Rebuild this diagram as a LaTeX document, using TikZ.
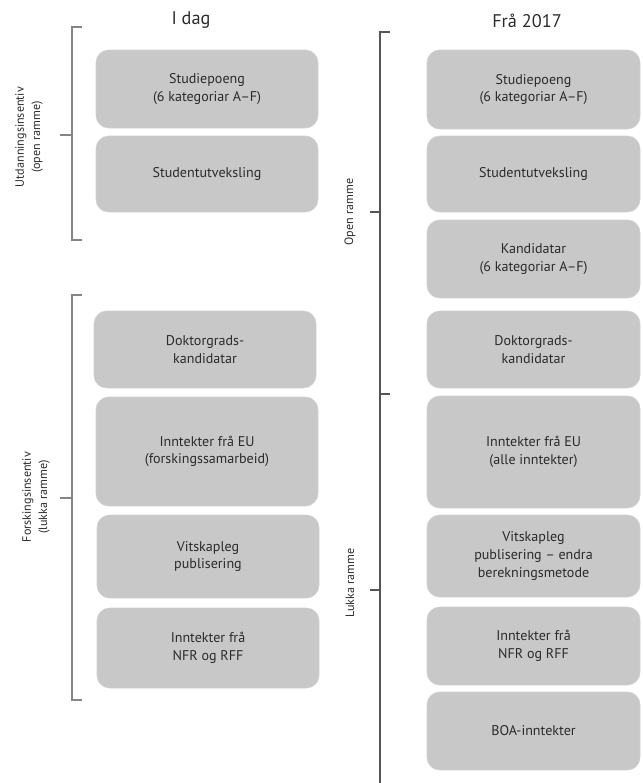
\documentclass[tikz,border=0pt]{standalone}
\usepackage{fontspec}
\setmainfont{PT Sans}
\usepackage{tikz}
\usetikzlibrary{calc}
\definecolor{boxgray}{HTML}{C8C8C8}
\definecolor{textgray}{HTML}{2B2B2B}
\definecolor{bracketgray}{HTML}{555555}
\definecolor{bracketlight}{HTML}{858585}
\newcommand{\boxtext}{\fontsize{10}{12.6}\selectfont}
\newcommand{\sidetext}{\fontsize{8.6}{11.5}\selectfont}
\newcommand{\px}{0.025cm}
\newcommand{\lw}{222*\px}
\newcommand{\rw}{213*\px}
\tikzset{
  item/.style={fill=boxgray, draw=boxgray!85, rounded corners=9pt, align=center,
    text=textgray, font=\boxtext, inner sep=0pt},
  bracket/.style={draw=bracketgray, line width=1.1pt},
  sidelabel/.style={rotate=90, align=center, text=textgray, font=\sidetext},
  coltitle/.style={text=textgray, font=\fontsize{13}{15}\selectfont}
}

\begin{document}
\begin{tikzpicture}[x=0.025cm, y=-0.025cm]
\useasboundingbox (0,0) rectangle (643,783);
%titles
\node[coltitle] (tdag) at (191, 20) {I dag};
\node[coltitle] (t2017) at (527, 21) {Frå 2017};
%I dag, utdanning
\node[item] (lsp) at (207, 89) [minimum width=\lw, minimum height=78*\px] {Studiepoeng\\(6 kategoriar A–F)};
\node[item] (lsu) at (207, 174) [minimum width=\lw, minimum height=76*\px] {Studentutveksling};
%I dag, forsking
\node[item] (ldk) at (205, 349.5) [minimum width=\lw, minimum height=77*\px] {Doktorgrads-\\kandidatar};
\node[item] (leu) at (207, 451.5) [minimum width=\lw, minimum height=109*\px] {Inntekter frå EU\\(forskingssamarbeid)};
\node[item] (lvp) at (208, 556.5) [minimum width=\lw, minimum height=83*\px] {Vitskapleg\\publisering};
\node[item] (lnfr) at (208, 648) [minimum width=\lw, minimum height=80*\px] {Inntekter frå\\NFR og RFF};
%Frå 2017
\node[item] (rsp) at (533.5, 89.5) [minimum width=\rw, minimum height=79*\px] {Studiepoeng\\(6 kategoriar A–F)};
\node[item] (rsu) at (533.5, 174) [minimum width=\rw, minimum height=76*\px] {Studentutveksling};
\node[item] (rka) at (533.5, 259) [minimum width=\rw, minimum height=78*\px] {Kandidatar\\(6 kategoriar A–F)};
\node[item] (rdk) at (533.5, 349.5) [minimum width=\rw, minimum height=77*\px] {Doktorgrads-\\kandidatar};
\node[item] (reu) at (533.5, 452) [minimum width=\rw, minimum height=112*\px] {Inntekter frå EU\\(alle inntekter)};
\node[item] (rvp) at (533.5, 556) [minimum width=\rw, minimum height=82*\px] {Vitskapleg\\publisering – endra\\berekningsmetode};
\node[item] (rnfr) at (533.5, 646) [minimum width=\rw, minimum height=78*\px] {Inntekter frå\\NFR og RFF};
\node[item] (rboa) at (533.5, 731) [minimum width=\rw, minimum height=78*\px] {BOA-inntekter};
%brackets
\coordinate (ut1) at (72, 27);
\coordinate (ut2) at (72, 240);
\coordinate (utm) at (72, 135);
\coordinate (fo1) at (72, 295);
\coordinate (fo2) at (72, 700);
\coordinate (fom) at (72, 498);
\coordinate (ra1) at (380, 32);
\coordinate (ra2) at (380, 394);
\coordinate (ra3) at (380, 783);
\coordinate (ram) at (380, 212);
\coordinate (rlm) at (380, 590);
\draw[bracket, draw=bracketlight] ($(ut1)+(10,0)$) -- (ut1) -- (ut2) -- ($(ut2)+(10,0)$);
\draw[bracket, draw=bracketlight] (utm) -- ($(utm)+(-12,0)$);
\draw[bracket, draw=bracketlight] ($(fo1)+(10,0)$) -- (fo1) -- (fo2) -- ($(fo2)+(10,0)$);
\draw[bracket, draw=bracketlight] (fom) -- ($(fom)+(-12,0)$);
\draw[bracket] ($(ra1)+(10,0)$) -- (ra1) -- (ra3);
\draw[bracket] (ra2) -- ($(ra2)+(10,0)$);
\draw[bracket] (ram) -- ($(ram)+(-10,0)$);
\draw[bracket] (rlm) -- ($(rlm)+(-10,0)$);
%side labels
\node[sidelabel] (lut) at (29, 137) {Utdanningsinsentiv\\(open ramme)};
\node[sidelabel] (lfo) at (36, 497) {Forskingsinsentiv\\(lukka ramme)};
\node[sidelabel] (lop) at (350, 212) {Open ramme};
\node[sidelabel] (llu) at (350, 583) {Lukka ramme};
\end{tikzpicture}
\end{document}
